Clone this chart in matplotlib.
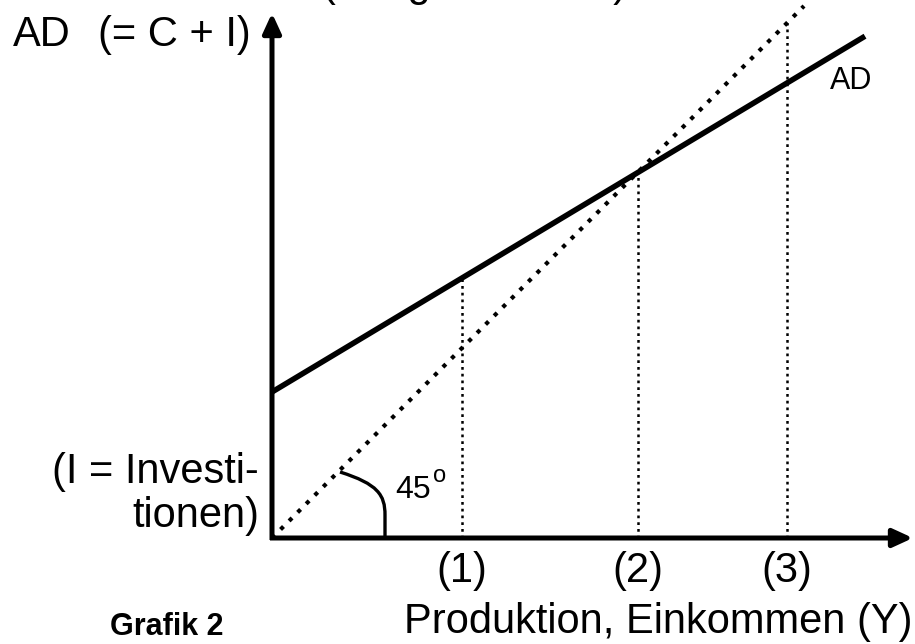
import matplotlib
matplotlib.use("Agg")
import matplotlib.pyplot as plt
import numpy as np
from matplotlib.path import Path
from matplotlib.patches import PathPatch

plt.rcParams['font.family'] = ['Liberation Sans', 'DejaVu Sans']

# ---- data (units: 1 = 100 px, origin at the axes corner) ----
I0 = 1.46          # autonomous investment (AD intercept)
c = 0.60           # slope of AD (marginal propensity to consume)
ad_range = [0.0, 5.93]
diag_range = [0.0, 5.32]
y_marks = [1.90, 3.66, 5.15]
y_mark_labels = ["(1)", "(2)", "(3)"]
x_axis_end = 6.41
y_axis_end = 5.25

fig = plt.figure(figsize=(9.15, 6.44), dpi=100)
ax = fig.add_axes([0, 0, 1, 1])
ax.set_xlim(-2.72, 6.43)
ax.set_ylim(-1.06, 5.38)
ax.axis('off')

# axes with arrows
ax.annotate('', xy=(x_axis_end, 0), xytext=(-0.02, 0),
            arrowprops=dict(arrowstyle='-|>,head_length=12,head_width=5.5',
                            mutation_scale=1, lw=3.6, color='black',
                            shrinkA=0, shrinkB=0, capstyle='butt'))
ax.annotate('', xy=(0, y_axis_end), xytext=(0, -0.02),
            arrowprops=dict(arrowstyle='-|>,head_length=12,head_width=5.5',
                            mutation_scale=1, lw=3.6, color='black',
                            shrinkA=0, shrinkB=0, capstyle='butt'))

# 45 degree line
d = np.array(diag_range)
ax.plot(d, d, color='black', lw=3.0, linestyle=(0, (1, 1.9)),
        dash_capstyle='butt', zorder=3)

# AD line
a = np.array(ad_range)
ax.plot(a, I0 + c * a, color='black', lw=4.0, solid_capstyle='butt', zorder=4)

# vertical dotted lines
for ym in y_marks:
    top = max(I0 + c * ym, ym)
    ax.plot([ym, ym], [0, top], color='black', lw=1.8,
            linestyle=(0, (1.1, 1.6)), dash_capstyle='butt', zorder=2)

# labels under x axis
for ym, lab in zip(y_marks, y_mark_labels):
    ax.text(ym, -0.44, lab, ha='center', va='baseline', fontsize=30)

# 45 degree angle arc
verts = [(0.68, 0.66), (1.06, 0.54), (1.13, 0.43), (1.13, 0.23), (1.13, 0.0)]
codes = [Path.MOVETO, Path.CURVE4, Path.CURVE4, Path.CURVE4, Path.LINETO]
ax.add_patch(PathPatch(Path(verts, codes), fill=False, lw=2.4,
                       edgecolor='black', zorder=3))
ax.text(1.23, 0.40, "45", ha='left', va='baseline', fontsize=23)
ax.text(1.61, 0.56, "o", ha='left', va='baseline', fontsize=17)

# texts
ax.text(-2.59, 4.92, "AD", ha='left', va='baseline', fontsize=30)
ax.text(-1.74, 4.92, "(= C + I)", ha='left', va='baseline', fontsize=30)
ax.text(2.03, 5.42, "(Ausgaben total)", ha='center', va='baseline',
        fontsize=30, clip_on=False)
ax.text(5.58, 4.49, "AD", ha='left', va='baseline', fontsize=22)
ax.text(-2.20, 0.55, "(I = Investi-", ha='left', va='baseline', fontsize=30)
ax.text(-1.40, 0.11, "tionen)", ha='left', va='baseline', fontsize=30)
ax.text(6.40, -0.95, "Produktion, Einkommen (Y)", ha='right', va='baseline',
        fontsize=30)
ax.text(-1.62, -0.97, "Grafik 2", ha='left', va='baseline', fontsize=22,
        fontweight='bold')

fig.savefig("out.png", dpi=100)
